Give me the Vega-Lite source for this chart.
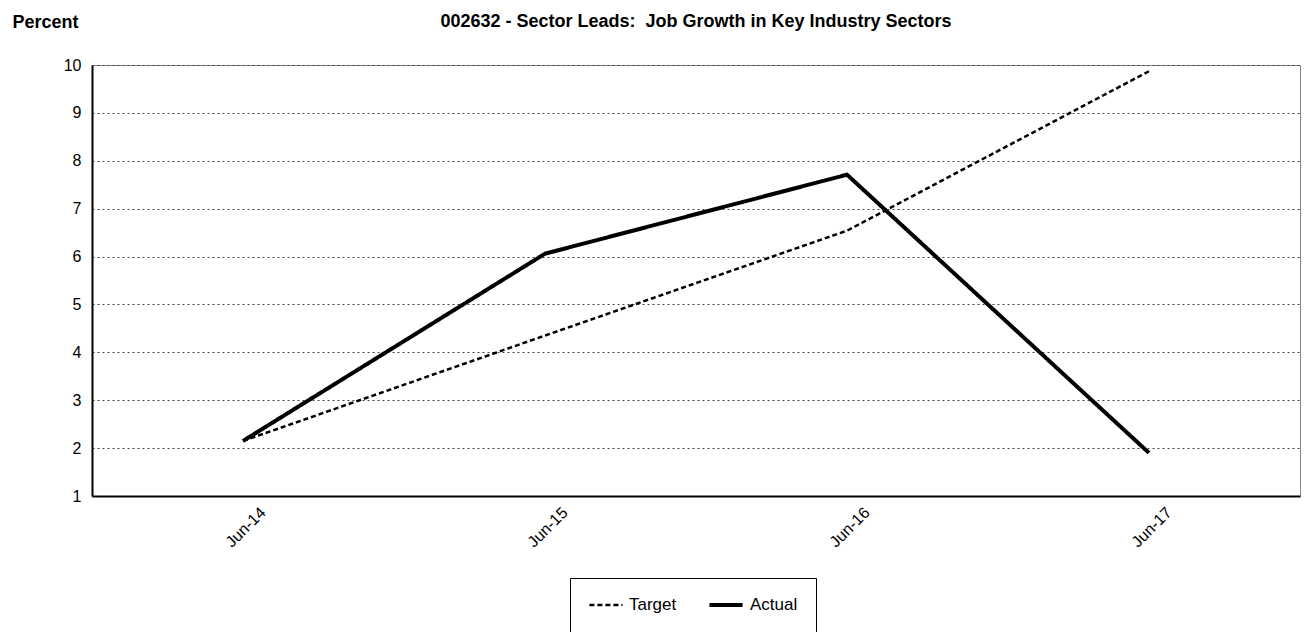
{
  "$schema": "https://vega.github.io/schema/vega-lite/v6.json",
  "autosize": "none",
  "width": 1208,
  "height": 431,
  "padding": {"left": 92, "top": 65, "right": 6, "bottom": 136},
  "background": "white",
  "title": {
    "text": "002632 - Sector Leads:\u00a0 Job Growth in Key Industry Sectors",
    "font": "Liberation Sans",
    "fontSize": 18,
    "fontWeight": "bold",
    "color": "black",
    "anchor": "middle",
    "offset": 0,
    "dy": 18
  },
  "config": {
    "view": {"stroke": "#888888", "strokeWidth": 1},
    "font": "Liberation Sans"
  },
  "data": {
    "values": [
      {"date": "Jun-14", "series": "Target", "value": 2.15},
      {"date": "Jun-15", "series": "Target", "value": 4.35},
      {"date": "Jun-16", "series": "Target", "value": 6.54},
      {"date": "Jun-17", "series": "Target", "value": 9.87},
      {"date": "Jun-14", "series": "Actual", "value": 2.15},
      {"date": "Jun-15", "series": "Actual", "value": 6.06},
      {"date": "Jun-16", "series": "Actual", "value": 7.71},
      {"date": "Jun-17", "series": "Actual", "value": 1.9}
    ]
  },
  "mark": {"type": "line", "color": "black", "strokeCap": "butt", "strokeJoin": "miter"},
  "encoding": {
    "x": {
      "field": "date",
      "type": "ordinal",
      "scale": {"type": "point", "padding": 0.5},
      "axis": {
        "title": null,
        "labelAngle": -45,
        "labelFont": "Liberation Sans",
        "labelFontSize": 16,
        "labelColor": "black",
        "ticks": false,
        "labelPadding": 8,
        "labelOffset": 14,
        "domain": true,
        "domainColor": "black",
        "domainWidth": 2,
        "grid": false
      }
    },
    "y": {
      "field": "value",
      "type": "quantitative",
      "scale": {"domain": [1, 10], "nice": false, "zero": false},
      "axis": {
        "title": "Percent",
        "titleAngle": 0,
        "titleX": -80,
        "titleY": -38,
        "titleAlign": "left",
        "titleBaseline": "alphabetic",
        "titleFont": "Liberation Sans",
        "titleFontSize": 18,
        "titleFontWeight": "bold",
        "titleColor": "black",
        "values": [1, 2, 3, 4, 5, 6, 7, 8, 9, 10],
        "labelFont": "Liberation Sans",
        "labelFontSize": 16,
        "labelColor": "black",
        "labelPadding": 11,
        "ticks": false,
        "domainColor": "black",
        "domainWidth": 2,
        "grid": true,
        "gridColor": "#444444",
        "gridDash": [2, 3],
        "gridWidth": 1
      }
    },
    "strokeDash": {
      "field": "series",
      "type": "nominal",
      "scale": {"domain": ["Target", "Actual"], "range": [[5, 3], [1, 0]]},
      "legend": {
        "title": null,
        "orient": "none",
        "direction": "horizontal",
        "legendX": 478,
        "legendY": 513,
        "padding": 18,
        "clipHeight": 18,
        "strokeColor": "black",
        "fillColor": "white",
        "labelFont": "Liberation Sans",
        "labelFontSize": 17,
        "labelColor": "black",
        "symbolType": "stroke",
        "symbolSize": 1100,
        "symbolStrokeColor": "black",
        "columnPadding": 30,
        "labelOffset": 5
      }
    },
    "strokeWidth": {
      "field": "series",
      "type": "nominal",
      "scale": {"domain": ["Target", "Actual"], "range": [2.5, 4]},
      "legend": {
        "title": null,
        "orient": "none",
        "direction": "horizontal",
        "legendX": 478,
        "legendY": 513,
        "padding": 18,
        "clipHeight": 18,
        "strokeColor": "black",
        "fillColor": "white",
        "labelFont": "Liberation Sans",
        "labelFontSize": 17,
        "labelColor": "black",
        "symbolType": "stroke",
        "symbolSize": 1100,
        "symbolStrokeColor": "black",
        "columnPadding": 30,
        "labelOffset": 5
      }
    }
  }
}
